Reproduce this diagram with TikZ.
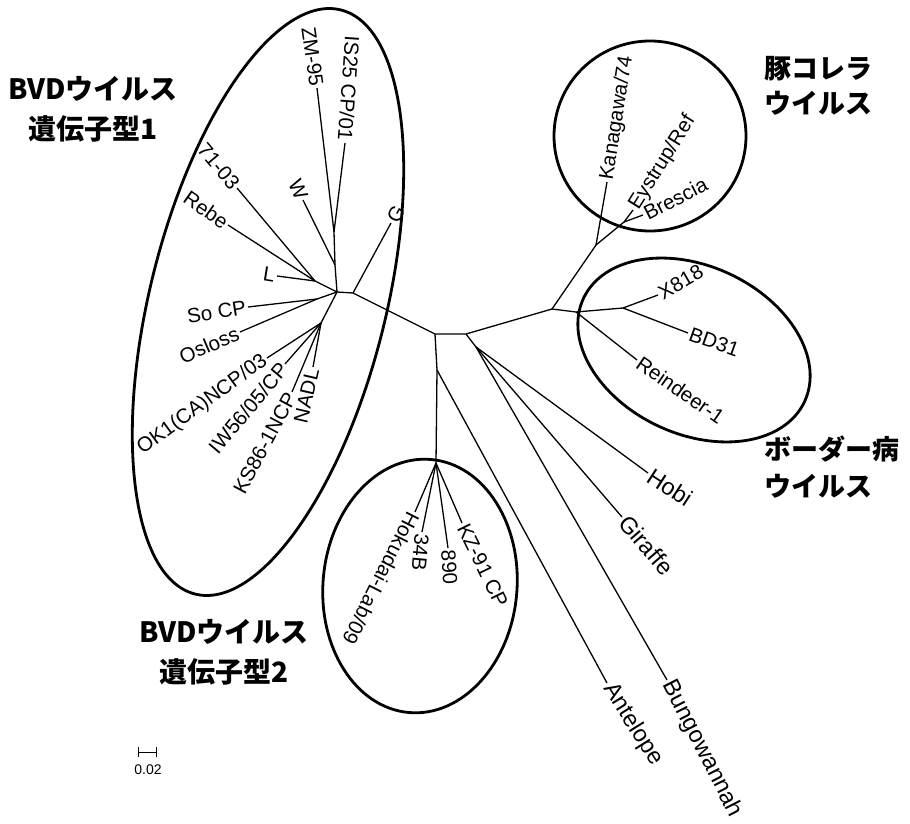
\documentclass[tikz,border=0pt]{standalone}
\usepackage{fontspec}
\setmainfont{Liberation Sans}
\newfontfamily\jp{Noto Sans CJK JP}[BoldFont={Noto Sans CJK JP Black}]
\begin{document}
\begin{tikzpicture}[x=1pt,y=-1pt,
  br/.style={line width=1.3pt},
  clu/.style={line width=2.8pt},
  lab/.style={font=\fontsize{20.5}{24}\selectfont, inner sep=2pt},
  outl/.style={lab, anchor=west},
  inl/.style={lab, anchor=east},
  bigl/.style={outl, font=\fontsize{23.5}{27}\selectfont},
  grp/.style={font=\jp\bfseries\fontsize{28}{40}\selectfont, inner sep=0pt}
]
\useasboundingbox (0,0) rectangle (910,824);
% internal nodes
\coordinate (A) at (337,292);
\coordinate (B) at (353,293);
\coordinate (C) at (435,334);
\coordinate (K) at (466,334);
\coordinate (Cv) at (437,370);
\coordinate (J) at (436,463);
\coordinate (M) at (476,347);
\coordinate (N) at (552,309);
\coordinate (P) at (596,245);
\coordinate (Q) at (624,222);
\coordinate (R) at (576,312);
\coordinate (S) at (623,308);
\coordinate (D) at (334,232);
\coordinate (E) at (335,265);
\coordinate (F) at (315,281);
\coordinate (Gn) at (317,299);
\coordinate (H) at (321,323);
% tips
\coordinate (tG) at (391,223);
\coordinate (tKan) at (607,182);
\coordinate (tEys) at (633,210);
\coordinate (tBre) at (643,215);
\coordinate (tX) at (658,295);
\coordinate (tBD) at (688,333);
\coordinate (tRei) at (637,360);
\coordinate (tHobi) at (648,473);
\coordinate (tGir) at (622,517);
\coordinate (tBun) at (667,680);
\coordinate (tAnt) at (607,683);
\coordinate (tKZ) at (462,523);
\coordinate (t890) at (448,548);
\coordinate (t34B) at (422,532);
\coordinate (tHok) at (415,512);
\coordinate (tZM) at (317,88);
\coordinate (tIS) at (345,143);
\coordinate (tW) at (303,200);
\coordinate (t71) at (237,188);
\coordinate (tReb) at (228,225);
\coordinate (tL) at (277,276);
\coordinate (tSo) at (248,307);
\coordinate (tOs) at (240,332);
\coordinate (tOK) at (267,358);
\coordinate (tIW) at (285,364);
\coordinate (tKS) at (292,392);
\coordinate (tNA) at (313,367);
% branches
\draw[br] (A) -- (B) -- (C) -- (K) -- (N) -- (R) -- (S) -- (tX);
\draw[br] (B) -- (tG);
\draw[br] (C) -- (Cv) -- (J);
\draw[br] (Cv) -- (tAnt);
\draw[br] (K) -- (M);
\draw[br] (M) -- (tHobi);
\draw[br] (M) -- (tGir);
\draw[br] (M) -- (tBun);
\draw[br] (N) -- (P) -- (tKan);
\draw[br] (P) -- (Q) -- (tEys);
\draw[br] (Q) -- (tBre);
\draw[br] (S) -- (tBD);
\draw[br] (R) -- (tRei);
\draw[br] (J) -- (tHok);
\draw[br] (J) -- (t34B);
\draw[br] (J) -- (t890);
\draw[br] (J) -- (tKZ);
\draw[br] (A) -- (E) -- (D) -- (tZM);
\draw[br] (D) -- (tIS);
\draw[br] (E) -- (tW);
\draw[br] (A) -- (F) -- (t71);
\draw[br] (F) -- (tReb);
\draw[br] (F) -- (tL);
\draw[br] (A) -- (Gn) -- (tSo);
\draw[br] (Gn) -- (tOs);
\draw[br] (A) -- (H) -- (tOK);
\draw[br] (H) -- (tIW);
\draw[br] (H) -- (tKS);
\draw[br] (H) -- (tNA);
% labels (outward)
\node[outl, rotate=61.5] (lG) at (tG) {G};
\node[outl, rotate=81] (lKan) at (tKan) {Kanagawa/74};
\node[outl, rotate=58] (lEys) at (tEys) {Eystrup/Ref};
\node[outl, rotate=27] (lBre) at (tBre) {Brescia};
\node[outl, rotate=30] (lX) at (tX) {X818};
\node[outl, rotate=-19.5] (lBD) at (tBD) {BD31};
\node[outl, rotate=-34.6] (lRei) at (tRei) {Reindeer-1};
\node[bigl, rotate=-33] (lHobi) at (tHobi) {Hobi};
\node[bigl, rotate=-49] (lGir) at (tGir) {Giraffe};
\node[bigl, rotate=-63] (lBun) at (tBun) {Bungowannah};
\node[bigl, rotate=-58] (lAnt) at (tAnt) {Antelope};
\node[outl, rotate=-64] (lKZ) at (tKZ) {KZ-91 CP};
\node[outl, rotate=-86] (l890) at (t890) {890};
\node[outl, rotate=-95] (l34B) at (t34B) {34B};
\node[outl, rotate=-117] (lHok) at (tHok) {Hokudai-Lab/09};
% labels (inward)
\node[inl, rotate=-82] (lZM) at (tZM) {ZM-95};
\node[inl, rotate=-94] (lIS) at (tIS) {IS25 CP/01};
\node[inl, rotate=-66] (lW) at (tW) {W};
\node[inl, rotate=-50] (l71) at (t71) {71-03};
\node[inl, rotate=-35] (lReb) at (tReb) {Rebe};
\node[inl, rotate=-9] (lL) at (tL) {L};
\node[inl, rotate=9] (lSo) at (tSo) {So CP};
\node[inl, rotate=23] (lOs) at (tOs) {Osloss};
\node[inl, rotate=36] (lOK) at (tOK) {OK1(CA)NCP/03};
\node[inl, rotate=50] (lIW) at (tIW) {IW56/05/CP};
\node[inl, rotate=62] (lKS) at (tKS) {KS86-1NCP};
\node[inl, rotate=77] (lNA) at (tNA) {NADL};
% clusters
\draw[clu, rotate around={76:(268,302)}] (268,302) ellipse [x radius=301pt, y radius=118pt];
\draw[clu, rotate around={-5:(420,586)}] (420,586) ellipse [x radius=97pt, y radius=127pt];
\draw[clu] (650,136) ellipse [x radius=96pt, y radius=95pt];
\draw[clu, rotate around={-25:(694,350)}] (694,350) ellipse [x radius=122pt, y radius=84pt];
% group titles
\node[grp, align=center] (g1) at (93,109) {BVDウイルス\\遺伝子型1};
\node[grp, align=center] (g2) at (224,652) {BVDウイルス\\遺伝子型2};
\node[grp, align=left, anchor=west, font=\jp\bfseries\fontsize{27}{35}\selectfont] (g3) at (764,86) {豚コレラ\\ウイルス};
\node[grp, align=left, anchor=west, font=\jp\bfseries\fontsize{27}{37}\selectfont] (g4) at (764,467) {ボーダー病\\ウイルス};
% scale bar
\coordinate (sb1) at (138,752);
\coordinate (sb2) at (156,752);
\draw[line width=1pt] (sb1) -- (sb2);
\draw[line width=1pt] (sb1) ++(0,-5) -- ++(0,10);
\draw[line width=1pt] (sb2) ++(0,-5) -- ++(0,10);
\node[font=\fontsize{14}{16}\selectfont, inner sep=0pt] (sbl) at (148,770) {0.02};
\end{tikzpicture}
\end{document}
